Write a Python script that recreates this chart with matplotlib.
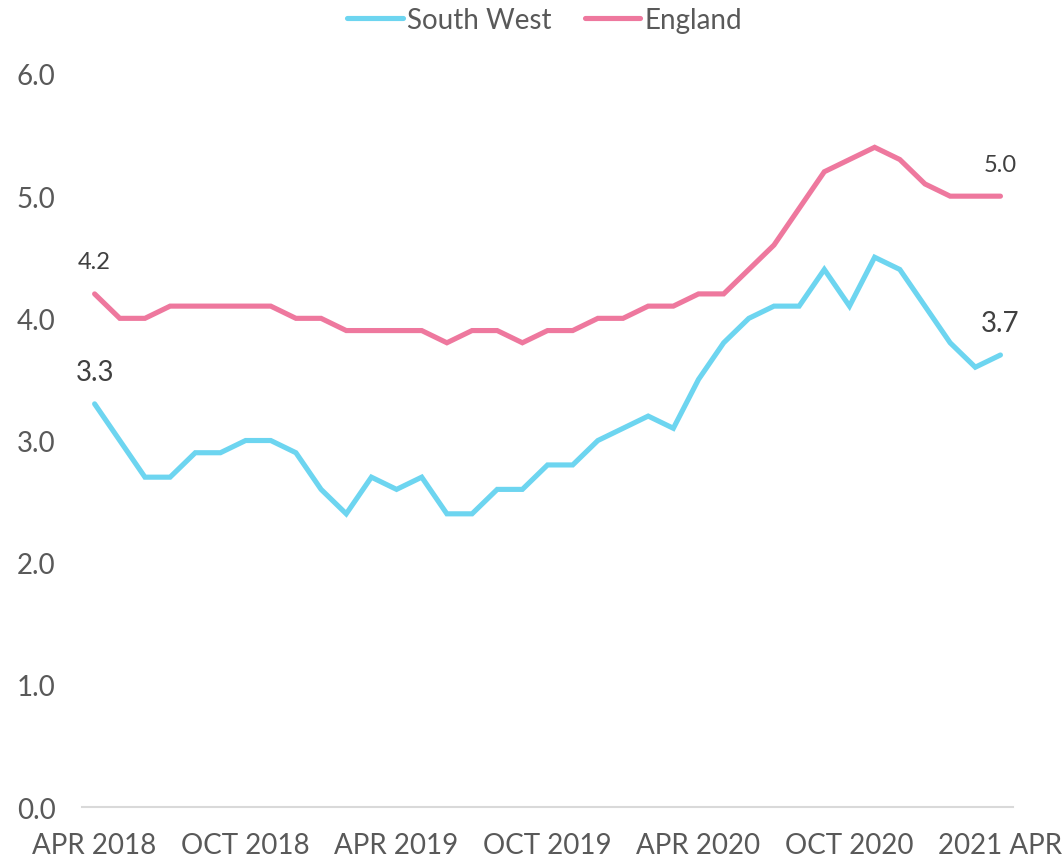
import matplotlib
matplotlib.use("Agg")
import matplotlib.pyplot as plt

months = ["APR 2018", "MAY 2018", "JUN 2018", "JUL 2018", "AUG 2018", "SEP 2018",
          "OCT 2018", "NOV 2018", "DEC 2018", "JAN 2019", "FEB 2019", "MAR 2019",
          "APR 2019", "MAY 2019", "JUN 2019", "JUL 2019", "AUG 2019", "SEP 2019",
          "OCT 2019", "NOV 2019", "DEC 2019", "JAN 2020", "FEB 2020", "MAR 2020",
          "APR 2020", "MAY 2020", "JUN 2020", "JUL 2020", "AUG 2020", "SEP 2020",
          "OCT 2020", "NOV 2020", "DEC 2020", "JAN 2021", "FEB 2021", "MAR 2021",
          "2021 APR"]
south_west = [3.3, 3.0, 2.7, 2.7, 2.9, 2.9, 3.0, 3.0, 2.9, 2.6, 2.4, 2.7,
              2.6, 2.7, 2.4, 2.4, 2.6, 2.6, 2.8, 2.8, 3.0, 3.1, 3.2, 3.1,
              3.5, 3.8, 4.0, 4.1, 4.1, 4.4, 4.1, 4.5, 4.4, 4.1, 3.8, 3.6, 3.7]
england = [4.2, 4.0, 4.0, 4.1, 4.1, 4.1, 4.1, 4.1, 4.0, 4.0, 3.9, 3.9,
           3.9, 3.9, 3.8, 3.9, 3.9, 3.8, 3.9, 3.9, 4.0, 4.0, 4.1, 4.1,
           4.2, 4.2, 4.4, 4.6, 4.9, 5.2, 5.3, 5.4, 5.3, 5.1, 5.0, 5.0, 5.0]
yticks = [0.0, 1.0, 2.0, 3.0, 4.0, 5.0, 6.0]

plt.rcParams['font.family'] = ['Lato', 'DejaVu Sans']
TXT = '#595959'
SW_C = '#6dd5f0'
EN_C = '#ee789e'

fig = plt.figure(figsize=(10.64, 8.62), dpi=100)
ax = fig.add_axes([0.0771, 0.0626, 0.8750, 0.8504])

x = list(range(len(months)))
ax.plot(x, south_west, color=SW_C, lw=3.7, solid_capstyle='round', solid_joinstyle='miter', label='South West')
ax.plot(x, england, color=EN_C, lw=3.7, solid_capstyle='round', solid_joinstyle='miter', label='England')

ax.set_xlim(-0.5, len(months) - 0.5)
ax.set_ylim(0, 6)
ax.set_yticks(yticks)
ax.set_yticklabels([f"{v:.1f}" for v in yticks])
ticks_x = [i for i in x if i % 6 == 0]
ax.set_xticks(ticks_x)
ax.set_xticklabels([months[i] for i in ticks_x])
ax.tick_params(axis='both', length=0, labelsize=20, colors=TXT)
ax.tick_params(axis='y', pad=19)
ax.tick_params(axis='x', pad=18)

for s in ['top', 'right', 'left']:
    ax.spines[s].set_visible(False)
ax.spines['bottom'].set_color('#d9d9d9')
ax.spines['bottom'].set_linewidth(1.5)

# data labels
for series, fs in [(england, 17), (south_west, 20)]:
    for i in [0, len(series) - 1]:
        ax.annotate(f"{series[i]:.1f}", (x[i], series[i]), xytext=(0, 23),
                    textcoords='offset points', ha='center', va='center',
                    fontsize=fs, color='#404040')

leg = fig.legend(loc='upper center', bbox_to_anchor=(0.512, 1.02), ncol=2, frameon=False,
                 fontsize=20, handlelength=2.0, handletextpad=0.15, columnspacing=1.2,
                 labelcolor=TXT)

fig.savefig('out.png', dpi=100)
